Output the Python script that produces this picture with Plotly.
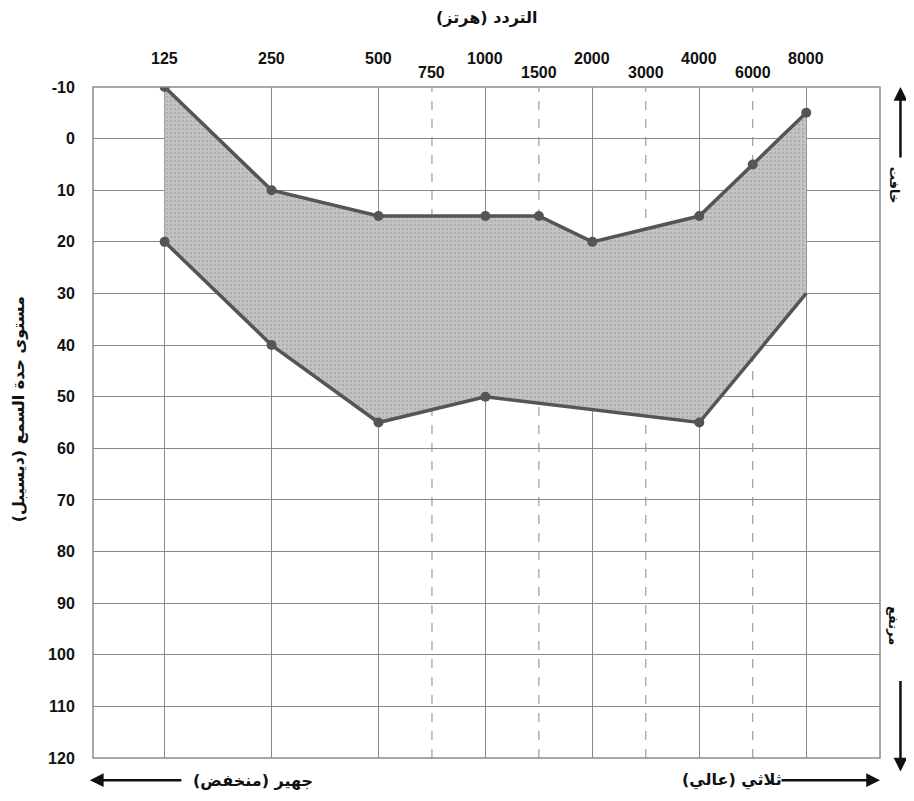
import math
import plotly.graph_objects as go

# ---- data ----
freq_labels = ["125", "250", "500", "750", "1000", "1500", "2000", "3000", "4000", "6000", "8000"]
octave_freqs = [125, 250, 500, 1000, 2000, 4000, 8000]
half_freqs = [750, 1500, 3000, 6000]

upper_freqs = [125, 250, 500, 1000, 1500, 2000, 4000, 6000, 8000]
upper_db = [-10, 10, 15, 15, 15, 20, 15, 5, -5]

lower_freqs = [125, 250, 500, 1000, 4000, 8000]
lower_db = [20, 40, 55, 50, 55, 30]

y_ticks = list(range(-10, 121, 10))


def pos(f):
    """Audiogram position: octaves equally spaced, half-octaves at midpoints."""
    r = math.log2(f / 125)
    base = math.floor(r + 1e-9)
    return base + (0.5 if abs(r - base) > 1e-9 else 0.0)


ux = [pos(f) for f in upper_freqs]
lx = [pos(f) for f in lower_freqs]

LINE = "#555555"
GRID = "#8a8a8a"
FONT = "DejaVu Sans, Noto Sans, sans-serif"
NUMFONT = "Liberation Sans, Arial, sans-serif"

fig = go.Figure()

# shaded region
fig.add_trace(go.Scatter(
    x=ux + lx[::-1], y=upper_db + lower_db[::-1],
    fill="toself", mode="none",
    fillcolor="#c0c0c0",
    fillpattern=dict(shape=".", bgcolor="#c4c4c4", fgcolor="#999999", size=4, solidity=0.35),
    hoverinfo="skip", showlegend=False,
))

# upper curve
fig.add_trace(go.Scatter(
    x=ux, y=upper_db, mode="lines+markers",
    line=dict(color=LINE, width=3.5),
    marker=dict(color=LINE, size=10),
    showlegend=False,
))
# lower curve (no marker at last point)
fig.add_trace(go.Scatter(
    x=lx, y=lower_db, mode="lines+markers",
    line=dict(color=LINE, width=3.5),
    marker=dict(color=LINE, size=10, opacity=[1] * (len(lx) - 1) + [0]),
    showlegend=False,
))

# dashed half-octave grid lines
shapes = []
for f in half_freqs:
    shapes.append(dict(type="line", xref="x", yref="paper", x0=pos(f), x1=pos(f), y0=0, y1=1,
                       line=dict(color=GRID, width=1, dash="dash"), layer="below"))
# plot border
shapes.append(dict(type="rect", xref="paper", yref="paper", x0=0, x1=1, y0=0, y1=1,
                   line=dict(color=GRID, width=1.5), layer="above"))

annotations = []
# staggered frequency labels at top
for lab in freq_labels:
    f = int(lab)
    is_oct = f in octave_freqs
    annotations.append(dict(
        x=pos(f), y=1.043 if is_oct else 1.022, xref="x", yref="paper",
        text=f"<b>{lab}</b>", showarrow=False,
        font=dict(family=NUMFONT, size=16, color="#111"),
        xanchor="center", yanchor="middle",
    ))

TXT = dict(xref="paper", yref="paper", showarrow=False, xanchor="center", yanchor="middle")
# top title
annotations.append(dict(x=0.5, y=1.103, text="<b>التردد (هرتز)</b>",
                        font=dict(family=FONT, size=16, color="#111"), **TXT))
# y title
annotations.append(dict(x=-0.095, y=0.52, text="<b>مستوى حدة السمع (ديسيبل)</b>", textangle=-90,
                        font=dict(family=FONT, size=16, color="#111"), **TXT))

ARW = dict(showarrow=True, arrowhead=2, arrowsize=1.1, arrowwidth=2.5, arrowcolor="#111", text="",
           xref="paper", yref="paper", standoff=0, startstandoff=0)
# right side arrows and text
annotations.append(dict(x=1.026, y=1.0, ax=0, ay=72, **ARW))
annotations.append(dict(x=1.018, y=0.854, text="<b>خافت</b>", textangle=90,
                        font=dict(family=FONT, size=13, color="#111"), **TXT))
annotations.append(dict(x=1.026, y=-0.02, ax=0, ay=-92, **ARW))
annotations.append(dict(x=1.018, y=0.198, text="<b>مرتفع</b>", textangle=90,
                        font=dict(family=FONT, size=13, color="#111"), **TXT))

# bottom arrows and text
annotations.append(dict(x=-0.004, y=-0.033, ax=93, ay=0, **ARW))
annotations.append(dict(x=0.203, y=-0.033, text="<b>جهير (منخفض)</b>",
                        font=dict(family=FONT, size=16, color="#111"), **TXT))
annotations.append(dict(x=1.0, y=-0.033, ax=-100, ay=0, **ARW))
annotations.append(dict(x=0.812, y=-0.033, text="<b>ثلاثي (عالي)</b>",
                        font=dict(family=FONT, size=16, color="#111"), **TXT))

fig.update_layout(
    width=898, height=785,
    margin=dict(l=85, r=26, t=79, b=35),
    paper_bgcolor="white", plot_bgcolor="white",
    shapes=shapes, annotations=annotations,
    xaxis=dict(
        range=[-0.67, 6.69],
        tickvals=[pos(f) for f in octave_freqs],
        showticklabels=False, showgrid=True, gridcolor=GRID, gridwidth=1,
        zeroline=False, showline=False, fixedrange=True,
    ),
    yaxis=dict(
        range=[120, -10], tickvals=y_ticks, ticktext=[f"<b>{v}</b>" for v in y_ticks],
        showgrid=True, gridcolor=GRID, gridwidth=1, zeroline=False, showline=False,
        ticks="outside", ticklen=14, tickcolor="rgba(0,0,0,0)",
        tickfont=dict(family=NUMFONT, size=16, color="#111"),
        fixedrange=True,
    ),
)

fig.write_html("out.html")
